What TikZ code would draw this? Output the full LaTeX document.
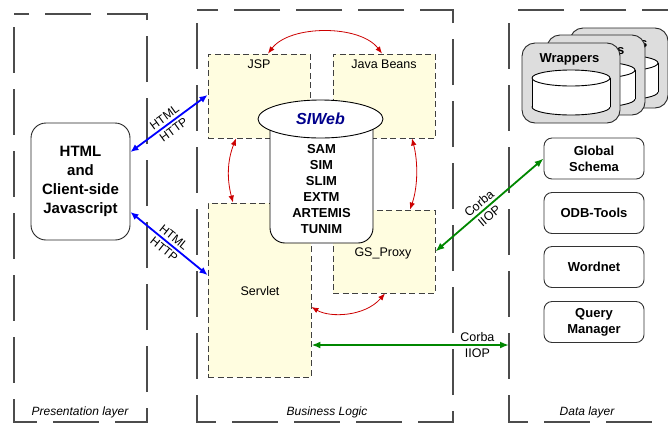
\documentclass[tikz,border=0pt]{standalone}
\usepackage{fontspec}
\setmainfont{Liberation Sans}
\usetikzlibrary{arrows.meta,calc,shapes.geometric}
\definecolor{boxyellow}{RGB}{255,253,224}
\definecolor{arrred}{RGB}{204,0,0}
\definecolor{arrgreen}{RGB}{0,135,0}
\definecolor{arrblue}{RGB}{0,0,255}
\definecolor{navytxt}{RGB}{0,0,140}
\definecolor{wrapgray}{RGB}{221,221,221}
\newcommand\wrapperstack[2]{%
 \begin{scope}[shift={#2}]
  \node[wbox] (#1) at (571,83) {};
  \node[font=\bfseries\fontsize{13}{15}\selectfont, inner sep=0pt] (#1txt) at (569.5,59) {Wrappers};
  \draw[line width=0.9pt, fill=white] (571,107) ellipse [x radius=39, y radius=8];
  \fill[white] (532,78) rectangle (610,107);
  \draw[line width=0.9pt] (532,78) -- (532,107) (610,78) -- (610,107);
  \draw[line width=0.9pt, fill=white] (571,78) ellipse [x radius=39, y radius=8];
 \end{scope}}
\begin{document}
\begin{tikzpicture}[x=1pt,y=-1pt,
  layerbox/.style={draw=black!70, line width=1.2pt, dash pattern=on 46pt off 16pt, dash phase=49pt},
  ybox/.style={draw=black!75, fill=boxyellow, line width=0.9pt, dash pattern=on 6pt off 3.5pt, inner sep=0pt},
  ytext/.style={font=\fontsize{12.5}{14}\selectfont, inner sep=0pt},
  dbox/.style={draw=black!80, line width=0.9pt, rounded corners=8pt, minimum width=100pt, minimum height=41pt, inner sep=0pt, align=center, font=\bfseries\fontsize{13}{16}\selectfont},
  wbox/.style={draw=black!85, line width=0.9pt, fill=wrapgray, rounded corners=13pt, minimum width=98pt, minimum height=80pt, inner sep=0pt},
  layertext/.style={font=\itshape\fontsize{12}{14}\selectfont, inner sep=0pt},
  bluearr/.style={arrblue, line width=1.8pt, arrows={Latex[length=8pt,width=7pt]-Latex[length=8pt,width=7pt]}},
  redarr/.style={arrred, line width=0.8pt, arrows={Latex[length=7pt,width=5.5pt]-Latex[length=7pt,width=5.5pt]}},
  greenarr/.style={arrgreen, line width=1.8pt, arrows={Latex[length=9pt,width=7pt]-Latex[length=9pt,width=7pt]}},
  arrlabel/.style={align=center, font=\fontsize{12}{15.5}\selectfont, inner sep=0pt, text=black}
]
\useasboundingbox (0,0) rectangle (668,424);
\begin{scope}
\clip (0,0) rectangle (668,424);
% layer boxes
\draw[layerbox] (14,14) rectangle (147,422);
\draw[layerbox] (197,10) rectangle (453,422);
\draw[layerbox] (509,10) rectangle (720,422);
\node[layertext] (lpres) at (80,412) {Presentation layer};
\node[layertext] (lbus) at (327,412) {Business Logic};
\node[layertext] (ldata) at (587,412) {Data layer};
\coordinate (datal) at (509,345);

% presentation
\node[draw=black!85, line width=0.9pt, rounded corners=15pt, minimum width=99pt, minimum height=117pt, inner sep=0pt, align=center, font=\bfseries\fontsize{15}{19}\selectfont] (html) at (80.5,181.5) {HTML\\and\\Client-side\\Javascript};

% business boxes
\node[ybox, minimum width=102pt, minimum height=84pt] (jsp) at (259,96) {};
\node[ybox, minimum width=102pt, minimum height=84pt] (beans) at (384,96) {};
\node[ybox, minimum width=103pt, minimum height=174pt] (servlet) at (259.5,290) {};
\node[ybox, minimum width=102pt, minimum height=83pt] (gsproxy) at (384,251.5) {};
\node[ytext] (jsptxt) at (259,64) {JSP};
\node[ytext] (beanstxt) at (384,64) {Java Beans};
\node[ytext] (servlettxt) at (260,291) {Servlet};
\node[ytext] (gstxt) at (383,253) {GS\_Proxy};

% SIWeb cylinder
\draw[line width=0.9pt, fill=white, rounded corners=15pt] (270,125) -- (270,243) -- (373,243) -- (373,125);
\node[draw, line width=0.9pt, fill=white, ellipse, minimum width=125pt, minimum height=38pt, inner sep=0pt, text=navytxt, font=\bfseries\itshape\fontsize{16}{18}\selectfont] (siweb) at (320.5,119) {SIWeb};
\node[align=center, inner sep=0pt, font=\bfseries\fontsize{13}{16}\selectfont] (modules) at (321.5,189) {SAM\\SIM\\SLIM\\EXTM\\ARTEMIS\\TUNIM};

% data layer
\wrapperstack{wrapC}{(48,-15)}
\wrapperstack{wrapB}{(25,-8)}
\wrapperstack{wrapA}{(0,0)}
\node[dbox] (gschema) at (594,158.5) {Global\\Schema};
\node[dbox] (odb) at (594,213) {ODB-Tools};
\node[dbox] (wordnet) at (594,267) {Wordnet};
\node[dbox] (query) at (594,322) {Query\\Manager};

% blue arrows
\draw[bluearr] ([yshift=29.5pt]html.east) -- ([yshift=1pt]jsp.west)
  node[arrlabel, midway, rotate=36] (lbl1) {HTML\\HTTP};
\draw[bluearr] ([yshift=-30.5pt]html.east) -- ([yshift=15pt]servlet.west)
  node[arrlabel, midway, rotate=-39] (lbl2) {HTML\\HTTP};

% red arrows
\draw[redarr] ([xshift=9pt]jsp.north) .. controls +(22,-29) and +(-22,-29) .. ([xshift=-2pt]beans.north);
\draw[redarr] ([xshift=-23pt]jsp.south) .. controls +(-9,23) and +(-6,-23) .. ([xshift=-26.5pt]servlet.north);
\draw[redarr] ([xshift=28pt]beans.south) .. controls +(6,23) and +(8,-23) .. ([xshift=26pt]gsproxy.north);
\draw[redarr] ([yshift=-17pt]servlet.east) .. controls +(19,11) and +(-20,23) .. ([xshift=1pt]gsproxy.south);

% green arrows
\draw[greenarr] (gsproxy.east) -- (gschema.west)
  node[arrlabel, font=\fontsize{12.5}{16}\selectfont, pos=0.45, rotate=40] (lbl3) {Corba\\IIOP};
\draw[greenarr] (servlet.east |- datal) -- (datal)
  node[arrlabel, font=\fontsize{12.5}{15.5}\selectfont, pos=0.84] (lbl4) {Corba\\IIOP};
\end{scope}
\end{tikzpicture}
\end{document}
